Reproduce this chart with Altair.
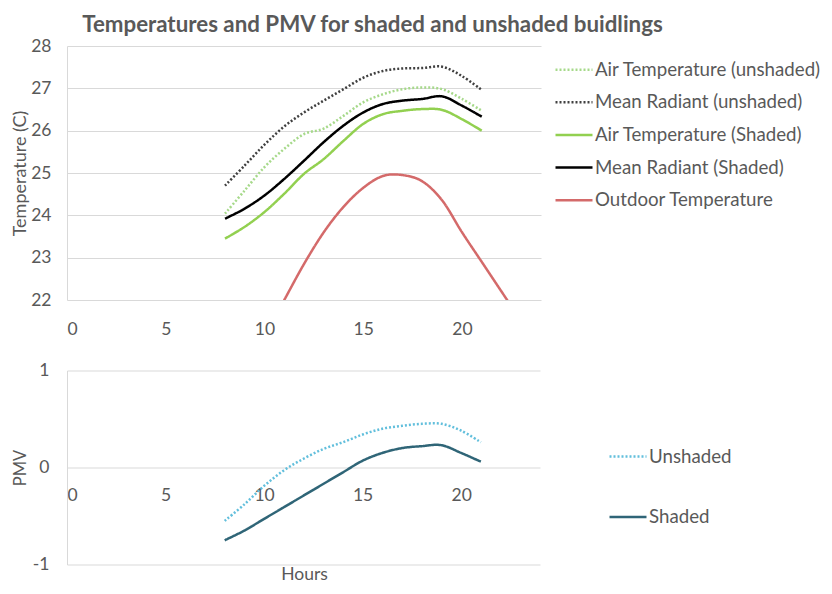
import altair as alt
import pandas as pd

# ---------------- data ----------------
hours = [8, 9, 10, 11, 12, 13, 14, 15, 16, 17, 18, 19, 20, 21]
air_unshaded = [24.04, 24.59, 25.14, 25.57, 25.92, 26.05, 26.35, 26.67, 26.86, 26.98, 27.02, 26.98, 26.75, 26.47]
rad_unshaded = [24.70, 25.18, 25.67, 26.10, 26.43, 26.71, 26.98, 27.25, 27.41, 27.47, 27.48, 27.51, 27.29, 26.96]
air_shaded = [23.45, 23.73, 24.08, 24.51, 24.98, 25.33, 25.76, 26.16, 26.39, 26.47, 26.51, 26.49, 26.27, 26.00]
rad_shaded = [23.92, 24.16, 24.47, 24.86, 25.29, 25.73, 26.12, 26.43, 26.63, 26.71, 26.75, 26.81, 26.59, 26.33]

outdoor_hours = [10, 11, 12, 13, 14, 15, 16, 17, 18, 19, 20, 21, 22, 23]
outdoor_temp = [21.15, 22.00, 22.85, 23.60, 24.20, 24.65, 24.93, 24.95, 24.80, 24.35, 23.60, 22.90, 22.20, 21.50]

pmv_unshaded = [-0.55, -0.38, -0.19, -0.03, 0.09, 0.19, 0.26, 0.34, 0.40, 0.43, 0.45, 0.45, 0.38, 0.26]
pmv_shaded = [-0.75, -0.65, -0.53, -0.41, -0.29, -0.17, -0.05, 0.07, 0.15, 0.20, 0.22, 0.23, 0.15, 0.06]

temp_series = ["Air Temperature (unshaded)", "Mean Radiant (unshaded)",
               "Air Temperature (Shaded)", "Mean Radiant (Shaded)", "Outdoor Temperature"]
temp_colors = ["#a6d98a", "#404040", "#92d050", "#000000", "#d46a6a"]
temp_dashes = [[2, 2], [2, 2], [1, 0], [1, 0], [1, 0]]

pmv_series = ["Unshaded", "Shaded"]
pmv_colors = ["#62bfdc", "#2f6577"]
pmv_dashes = [[2, 2], [1, 0]]

x_ticks = [0, 5, 10, 15, 20]
temp_ticks = [22, 23, 24, 25, 26, 27, 28]
pmv_ticks = [-1, 0, 1]

# ---------------- tables ----------------
rows = []
for name, vals in zip(temp_series[:4], [air_unshaded, rad_unshaded, air_shaded, rad_shaded]):
    for h, v in zip(hours, vals):
        rows.append({"Hour": h, "Temp": v, "Series": name})
for h, v in zip(outdoor_hours, outdoor_temp):
    rows.append({"Hour": h, "Temp": v, "Series": temp_series[4]})
temp_df = pd.DataFrame(rows)

prow = []
for name, vals in zip(pmv_series, [pmv_unshaded, pmv_shaded]):
    for h, v in zip(hours, vals):
        prow.append({"Hour": h, "PMV": v, "Series": name})
pmv_df = pd.DataFrame(prow)

FONT = "Lato"
TXT = "#595959"
GRID = "#d9d9d9"

top_legend = alt.Legend(title=None, orient="none", legendX=487, legendY=3.75,
                        symbolType="stroke", symbolSize=1369, symbolStrokeWidth=2.5,
                        labelFont=FONT, labelFontSize=18.7, labelColor=TXT, labelLimit=0,
                        rowPadding=2.6, labelOffset=1, padding=0)

top = alt.Chart(temp_df).mark_line(interpolate="cardinal", strokeWidth=2.5, clip=True).encode(
    x=alt.X("Hour:Q", scale=alt.Scale(domain=[0, 24], nice=False),
            axis=alt.Axis(values=x_ticks, title=None, grid=False, domain=False, ticks=False,
                          labelPadding=20, labelFont=FONT, labelFontSize=17.5, labelColor=TXT)),
    y=alt.Y("Temp:Q", scale=alt.Scale(domain=[22, 28], nice=False),
            axis=alt.Axis(values=temp_ticks, title="Temperature (C)", grid=True, gridColor=GRID,
                          domain=True, domainColor=GRID, ticks=False, labelPadding=16,
                          labelFont=FONT, labelFontSize=17.5, labelColor=TXT,
                          titleFont=FONT, titleFontSize=18, titleFontWeight="normal",
                          titleColor=TXT, titlePadding=1.5)),
    color=alt.Color("Series:N", scale=alt.Scale(domain=temp_series, range=temp_colors), legend=top_legend),
    strokeDash=alt.StrokeDash("Series:N", scale=alt.Scale(domain=temp_series, range=temp_dashes), legend=top_legend),
).properties(width=474, height=254)

bot_legend = alt.Legend(title=None, orient="none", legendX=541, legendY=66,
                        symbolType="stroke", symbolSize=1369, symbolStrokeWidth=2.5,
                        labelFont=FONT, labelFontSize=18.7, labelColor=TXT, labelLimit=0,
                        rowPadding=30.5, labelOffset=1, padding=0)

bottom = alt.Chart(pmv_df).mark_line(interpolate="cardinal", strokeWidth=2.5).encode(
    x=alt.X("Hour:Q", scale=alt.Scale(domain=[0, 24], nice=False),
            axis=alt.Axis(values=x_ticks, title=None, grid=False, domain=False, ticks=False,
                          offset=-97, labelPadding=19, labelFont=FONT, labelFontSize=17.5,
                          labelColor=TXT)),
    y=alt.Y("PMV:Q", scale=alt.Scale(domain=[-1, 1], nice=False),
            axis=alt.Axis(values=pmv_ticks, title="PMV", grid=True, gridColor=GRID,
                          domain=True, domainColor=GRID, ticks=False, labelPadding=18,
                          labelExpr="datum.value", labelFont=FONT, labelFontSize=17.5,
                          labelColor=TXT, titleFont=FONT, titleFontSize=16.5,
                          titleFontWeight="normal", titleColor=TXT, titlePadding=4)),
    color=alt.Color("Series:N", scale=alt.Scale(domain=pmv_series, range=pmv_colors), legend=bot_legend),
    strokeDash=alt.StrokeDash("Series:N", scale=alt.Scale(domain=pmv_series, range=pmv_dashes), legend=bot_legend),
).properties(
    width=473, height=194,
    title=alt.TitleParams("Hours", orient="bottom", anchor="middle", frame="group", dx=1,
                          font=FONT, fontSize=17.5, fontWeight="normal", color=TXT, offset=-7),
)

chart = alt.vconcat(top, bottom, spacing=23.5).resolve_scale(
    color="independent", strokeDash="independent"
).properties(
    title=alt.TitleParams("Temperatures and PMV for shaded and unshaded buidlings",
                          anchor="start", dx=71, font=FONT, fontSize=22.3, fontWeight="bold",
                          color=TXT, offset=1),
    padding={"left": 3, "top": 5, "right": 0, "bottom": 0},
).configure_view(stroke=None)

chart.save("out.html", embed_options={"renderer": "svg", "actions": False})
